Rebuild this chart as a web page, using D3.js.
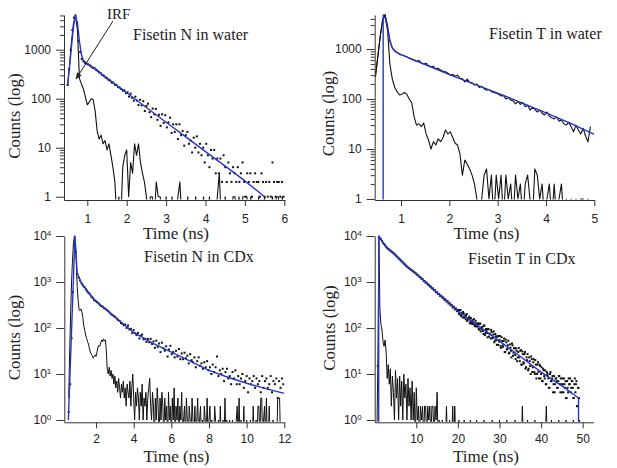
<!DOCTYPE html>
<html><head><meta charset="utf-8">
<script src="https://cdn.jsdelivr.net/npm/d3@7"></script>
<style>body{margin:0;background:#fff}svg{display:block}</style>
</head><body>
<svg id="c" width="617" height="468"></svg>
<script>
// ---------- DATA ----------
// Panel 1: Fisetin N in water
const p1Title = "Fisetin N in water";
const p1XTicks = [1,2,3,4,5,6];
const p1YTicks = [1,10,100,1000];
const p1IrfStart = 0.50, p1IrfStep = 0.05;
const p1IrfCounts = [190,500,1500,3500,5000,2500,260,200,160,110,
 75,85,100,95,55,22,15,18,12,14,
 9,12,7,4,2,0,1,0,4,7,
 9,1,5,3,12,7,12,5,3,2,
 1,0,1,1,0,2,1,1,0,0,
 1,0,0,1,0,0,1,2,0,0,
 0,1,0,0,0,1,0,0,0,1,
 0,0,1,0,0,0,1,3,0,0,
 1,0,0,0,1,1,0,1,0,1,
 1,1,0,1,0,0,0,1,0,0,
 1,0,0,0,1,0,1,1,0,1,0];
const p1DotStart = 0.50, p1DotStep = 0.04;
const p1DotCounts = [190,400,1000,2500,4500,5000,3500,1500,900,650,
 580,540,520,500,480,450,430,420,392,372,
 348,330,305,292,272,260,243,234,214,212,
 192,190,174,168,158,146,148,130,135,110,
 127,104,91,110,92,74,95,73,89,56,
 71,79,53,42,63,48,62,37,47,28,
 48,32,46,26,33,41,20,30,21,30,
 15,30,18,22,11,18,21,12,14,8,
 16,10,17,8,12,7,10,5,12,7,
 4,9,6,9,3,6,3,6,2,7,
 4,2,5,3,2,4,3,2,4,2,
 3,5,2,1,3,2,3,1,2,3,
 2,2,1,3,2,1,2,1,2,1,
 5,2,1,2,2,1,2,1];
const p1FitTime = [0.5,0.55,0.6,0.65,0.7,0.75,0.8,0.85,0.9,1.0,1.2,1.5,2.0,2.5,3.0,3.5,4.0,4.5,5.0,5.5];
const p1FitCounts = [190,450,1200,3000,5000,3500,1500,800,600,520,400,265,132,66,33,16.6,8.3,4.2,2.1,1.0];

// Panel 2: Fisetin T in water
const p2Title = "Fisetin T in water";
const p2XTicks = [1,2,3,4,5];
const p2YTicks = [1,10,100,1000];
const p2Start = 0.47, p2Step = 0.05;
const p2IrfCounts = [280,700,1800,3800,4800,2500,500,250,170,140,
 120,125,135,125,100,85,45,30,32,28,
 33,20,15,10,14,12,16,14,17,24,
 20,22,17,13,12,8,3,6,5,4,
 3,2,1,0,1,3,4,1,3,0,
 3,1,3,0,3,1,2,0,3,1,
 2,0,2,3,1,0,4,3,1,2,
 0,1,2,0,2,0,1,2,0,1,
 0,1,0,1,0,1,1,0,1,0];
const p2DecayCounts = [280,700,1800,3800,4900,3000,1500,1050,900,850,
 780,760,730,700,650,620,600,560,590,520,
 500,520,460,440,450,400,410,380,360,350,
 330,300,310,285,300,260,255,220,250,215,
 210,190,200,170,180,160,150,155,140,135,
 130,125,115,118,100,108,95,92,80,90,
 78,85,70,75,60,68,62,55,60,52,
 48,55,45,42,40,44,36,38,32,30,
 34,28,22,30,24,20,26,18,14,28];
const p2FitTime = [0.63,0.631,0.68,0.72,0.77,0.82,0.9,1.0,1.2,1.5,2.0,2.5,3.0,3.5,4.0,4.5,5.0];
const p2FitCounts = [0,4800,4000,2500,1400,1050,870,770,640,490,306,200,131,84,53,33,19.6];

// Panel 3: Fisetin N in CDx
const p3Title = "Fisetin N in CDx";
const p3XTicks = [2,4,6,8,10,12];
const p3YTicks = [1,10,100,1000,10000];
const p3IrfStart = 0.55, p3IrfStep = 0.05;
const p3IrfCounts = [3,30,200,1000,3000,7000,10000,8000,2500,800,
 400,250,240,260,220,170,110,90,70,60,
 50,45,35,30,27,25,22,24,26,24,
 30,38,42,40,48,55,50,58,52,55,
 30,12,10,14,9,12,8,10,6,9,
 5,7,4,8,5,3,6,4,7,3,
 5,2,6,4,3,7,2,5,10,3,
 1,4,2,5,3,1,4,2,6,1,
 3,2,4,1,3,5,8,2,1,4,
 2,0,3,1,5,2,0,3,1,4,
 2,0,3,1,2,0,4,1,2,0,
 3,1,5,0,2,1,3,0,2,1,
 4,0,1,2,0,3,1,0,2,1,
 0,3,1,0,2,0,1,3,0,1,
 2,0,1,0,2,1,0,3,0,1,
 2,0,1,0,0,2,1,0,0,1,
 0,2,0,0,1,0,3,0,1,0,
 0,1,0,0,1,0,0,0,1,2,
 0,3,0,1,0,0,2,0,0,1,
 0,0,0,1,0,0,2,0,0,1,
 0,2,2,0,3,3,0,1,2,0,
 3,0,0,2,0,0,0,1,0,0,
 0,0,3,3,3,0,0,0,0,0];
const p3DotStart = 0.55, p3DotStep = 0.075;
const p3DotCounts = [1.5,6,60,600,6000,4500,1500,1250,1080,940,
 840,780,690,630,575,540,480,450,405,385,
 365,345,320,300,290,270,262,245,232,215,
 200,190,180,172,160,150,142,128,124,115,
 119,100,113,93,96,77,91,77,70,78,
 59,68,72,57,58,50,58,49,58,45,
 51,37,53,39,46,30,48,36,32,40,
 24,34,41,27,30,23,32,24,35,21,
 28,21,29,22,25,17,27,20,18,23,
 14,19,23,15,17,13,18,14,19,12,
 14,10,16,11,14,24,9,12,10,13,
 7,11,13,8,9,6,11,8,12,6,
 9,6,8,10,5,7,9,4,8,6,
 7,9,5,8,6,7,4,9,5,7,
 8,5,6,9,4,7,6,8,3,7,
 5,8,6];
const p3FitTime = [0.53,0.88,1.0,1.25,1.5,1.67,2,2.5,3,3.5,4,5,6,7,8,9,10,11,12];
const p3FitCounts = [1,10000,1550,920,680,540,380,260,175,118,80,47,30,19,12,8.5,6.3,4.8,3.8];

// Panel 4: Fisetin T in CDx
const p4Title = "Fisetin T in CDx";
const p4XTicks = [10,20,30,40,50];
const p4YTicks = [1,10,100,1000,10000];
const p4IrfStart = 0.5, p4IrfStep = 0.25;
const p4IrfCounts = [0,15,9000,270,120,90,50,40,55,30,
 8,16,6,13,2,9,4,1,12,3,
 8,1,9,2,7,1,10,3,6,1,
 8,2,5,1,7,1,4,0,5,1,
 2,0,2,1,2,0,2,2,0,2,
 1,2,0,2,2,0,2,1,4,0,
 1,0,0,1,0,0,0,2,0,0,
 1,0,0,2,0,2,0,
 0,0,1,0,0,0,0,1,0,0,
 0,0,0,1,0,0,0,0,0,1,
 0,0,0,0,0,0,1,0,0,0,
 0,0,0,0,1,0,0,0,0,0,
 0,1,0,0,0,0,0,0,1,0,
 0,0,0,0,0,0,1,0,0,0,
 0,0,0,2,0,0,0,0,1,0,
 0,0,0,0,0,1,0,0,0,0,
 0,0,0,0,0,0,2,0,0,0,
 0,1,0,0,0,0,0,0,1,0,
 0,0,0,0,0,1,0,0,0,0,
 0,0,1,0,0,0,0,0,1,0,0,0];
const p4DotStart = 0.75, p4DotStep = 0.25;
const p4DotCounts = [15,
 9500,8900,8500,7800,7100,6700,6250,5850,5500,
 5250,5050,4800,4620,4430,4250,4050,3840,3650,3450,
 3280,3110,2950,2800,2660,2520,2400,2280,2170,2070,
 1990,1915,1840,1770,1700,1640,1570,1510,
 1420,1390,1290,1270,1180,1160,1060,1050,970,960,880,870,800,795,730,720,665,660,600,595,
 550,545,495,500,455,460,410,420,375,385,340,350,310,320,280,292,255,268,232,245,
 208,243,184,211,223,168,175,190,142,163,176,139,124,149,133,115,143,112,121,97,
 122,84,103,86,114,70,95,78,95,65,73,91,60,72,49,74,54,64,43,55,
 40,63,42,52,30,56,34,42,28,44,32,46,25,36,26,36,19,30,23,32,
 16,31,18,27,13,23,27,13,19,10,21,14,21,10,16,10,18,8,15,10,
 7,13,9,12,6,10,8,5,11,7,9,6,4,8,7,5,9,6,8,4,
 6,8,5,3,7,4,6,8,5,7,3,6,4,7,2,5];
const p4DotBStart = 20.125, p4DotBStep = 0.25;
const p4DotBCounts = [248,199,245,195,170,209,187,155,201,152,165,127,164,136,122,156,109,126,107,127,
 92,125,95,106,74,112,78,87,63,94,75,59,82,61,84,53,66,43,67,51,
 67,37,52,39,59,30,49,35,53,29,37,23,42,29,37,21,32,23,37,19,
 33,16,27,17,30,14,20,12,23,15,24,11,18,11,20,8,16,11,16,8,
 14,7,12,8,6,11,9,5,10,7,8,4,9,6,8,5,7,9,4,6,
 8,4,6,7,3,5,8,6,4,7,5,3,8,6,2,5,3];
const p4FitTime = [0.96,0.97,1.5,2,3,4.6,7.8,10,15,20,25,30,35,40,45,49.0,49.01];
const p4FitCounts = [0,10000,8500,7100,5500,4200,2150,1500,590,234,110,52,24,11,5.5,3.0,0];

// ---------- DRAW ----------
const BLUE = "#2338c8", BLACK = "#111";
const SERIF = "'Liberation Serif','Times New Roman',serif";
const SANS = "'Liberation Sans',Arial,sans-serif";
const svg = d3.select("#c");

const uniform = (start, step, counts) => counts.map((v, i) => ({t: +(start + i*step).toFixed(4), v}));
const paired = (times, counts) => times.map((t, i) => ({t, v: counts[i]}));

const panels = [
  {title:p1Title, xt:p1XTicks, yt:p1YTicks, px:[64,285], py:[200,15], xd:[0.4086,6.018], yd:[0.856,5105], minor:true, sup:false,
   tpos:[133,40], ylab:[20,116], xlab:[176,239], pad:8,
   layers:[{k:"line", d:uniform(p1IrfStart,p1IrfStep,p1IrfCounts), c:BLACK, w:1.1},
           {k:"dots", d:uniform(p1DotStart,p1DotStep,p1DotCounts)},
           {k:"line", d:paired(p1FitTime,p1FitCounts), c:BLUE, w:1.4}]},
  {title:p2Title, xt:p2XTicks, yt:p2YTicks, px:[374.7,594.3], py:[200,15], xd:[0.4555,5.0], yd:[0.955,4786], minor:true, sup:false,
   tpos:[489,39], ylab:[334,113.5], xlab:[486.5,239], pad:8,
   layers:[{k:"line", d:uniform(p2Start,p2Step,p2IrfCounts), c:BLACK, w:1.1},
           {k:"line", d:uniform(p2Start,p2Step,p2DecayCounts), c:BLACK, w:1.1},
           {k:"line", d:paired(p2FitTime,p2FitCounts), c:BLUE, w:1.4}]},
  {title:p3Title, xt:p3XTicks, yt:p3YTicks, px:[64.3,284.3], py:[422.3,236], xd:[0.314,12], yd:[0.891,10000], minor:false, sup:true,
   tpos:[144,262], ylab:[20,337.5], xlab:[176.5,461.5], pad:6,
   layers:[{k:"line", d:uniform(p3IrfStart,p3IrfStep,p3IrfCounts), c:BLACK, w:1},
           {k:"dots", d:uniform(p3DotStart,p3DotStep,p3DotCounts)},
           {k:"line", d:paired(p3FitTime,p3FitCounts), c:BLUE, w:1.4}]},
  {title:p4Title, xt:p4XTicks, yt:p4YTicks, px:[374.7,593.5], py:[422.3,236], xd:[0,52.6], yd:[0.891,10000], minor:false, sup:true,
   tpos:[468,264], ylab:[335,328], xlab:[486,461.5], pad:6,
   layers:[{k:"line", d:uniform(p4IrfStart,p4IrfStep,p4IrfCounts), c:BLACK, w:1},
           {k:"dots", d:uniform(p4DotStart,p4DotStep,p4DotCounts)},
           {k:"dots", d:uniform(p4DotBStart,p4DotBStep,p4DotBCounts)},
           {k:"line", d:paired(p4FitTime,p4FitCounts), c:BLUE, w:1.4}]}
];

panels.forEach((p, pi) => {
  const x = d3.scaleLinear().domain(p.xd).range(p.px);
  const y = d3.scaleLog().domain(p.yd).range(p.py);
  const floorY = p.py[0] + 20;
  const yv = v => v > 0 ? y(v) : floorY;
  const g = svg.append("g");
  const cid = "clip" + pi;
  svg.append("clipPath").attr("id", cid).append("rect")
    .attr("x", p.px[0]).attr("y", p.py[1] - 15)
    .attr("width", p.px[1] - p.px[0]).attr("height", p.py[0] - p.py[1] + 15 - 0.5);
  const plot = g.append("g").attr("clip-path", `url(#${cid})`);

  p.layers.forEach(L => {
    if (L.k === "line") {
      plot.append("path").datum(L.d)
        .attr("fill", "none").attr("stroke", L.c).attr("stroke-width", L.w)
        .attr("stroke-linejoin", "round")
        .attr("d", d3.line().x(d => x(d.t)).y(d => yv(d.v)));
    } else {
      plot.append("g").selectAll("rect").data(L.d.filter(d => d.v > 0)).join("rect")
        .attr("x", d => x(d.t) - 1).attr("y", d => y(d.v) - 1)
        .attr("width", 2).attr("height", 2).attr("fill", BLACK);
    }
  });

  const xa = g.append("g").attr("transform", `translate(0,${p.py[0]})`)
    .call(d3.axisBottom(x).tickValues(p.xt).tickSize(6).tickSizeOuter(0).tickPadding(p.pad).tickFormat(d3.format("d")));
  const ya = g.append("g").attr("transform", `translate(${p.px[0]},0)`)
    .call(d3.axisLeft(y).tickValues(p.yt).tickSize(8).tickSizeOuter(0).tickPadding(5)
      .tickFormat(p.sup ? (() => "") : d3.format("d")));
  if (p.minor) {
    const minors = [];
    p.yt.forEach(dec => { for (let m = 2; m <= 9; m++) { const v = dec*m; if (v <= p.yd[1]) minors.push(v); } });
    g.append("g").attr("transform", `translate(${p.px[0]},0)`)
      .call(d3.axisLeft(y).tickValues(minors).tickSize(4).tickSizeOuter(0).tickFormat(() => ""))
      .call(s => s.select(".domain").remove());
  }
  [xa, ya].forEach(a => {
    a.selectAll(".domain,line").attr("stroke", "#333").attr("stroke-width", 1);
    a.selectAll("text").attr("font-family", SANS).attr("font-size", 12).attr("fill", "#222");
  });
  g.selectAll("g.tick line").attr("stroke", "#333");
  if (p.sup) {
    ya.selectAll(".tick text").each(function(d) {
      const t = d3.select(this);
      t.text(null);
      t.append("tspan").text("10");
      t.append("tspan").attr("dy", "-0.5em").attr("font-size", 8).text(Math.round(Math.log10(d)));
    });
  }

  g.append("text").attr("x", p.tpos[0]).attr("y", p.tpos[1]).text(p.title)
    .attr("font-family", SERIF).attr("font-size", 16).attr("fill", "#222");
  g.append("text").attr("x", p.xlab[0]).attr("y", p.xlab[1]).attr("text-anchor", "middle").text("Time (ns)")
    .attr("font-family", SERIF).attr("font-size", 17).attr("fill", "#222");
  g.append("text").attr("transform", `translate(${p.ylab[0]},${p.ylab[1]}) rotate(-90)`)
    .attr("text-anchor", "middle").text("Counts (log)")
    .attr("font-family", SERIF).attr("font-size", 17).attr("fill", "#222");
});

// IRF annotation
const defs = svg.append("defs");
defs.append("marker").attr("id", "arr").attr("viewBox", "0 0 10 10").attr("refX", 9).attr("refY", 5)
  .attr("markerWidth", 7).attr("markerHeight", 7).attr("orient", "auto")
  .append("path").attr("d", "M0,1 L10,5 L0,9 Z").attr("fill", "#222");
svg.append("line").attr("x1", 113).attr("y1", 21).attr("x2", 76).attr("y2", 79)
  .attr("stroke", "#222").attr("stroke-width", 1).attr("marker-end", "url(#arr)");
svg.append("text").attr("x", 107).attr("y", 18.5).text("IRF")
  .attr("font-family", SERIF).attr("font-size", 15).attr("fill", "#222");
</script>
</body></html>
